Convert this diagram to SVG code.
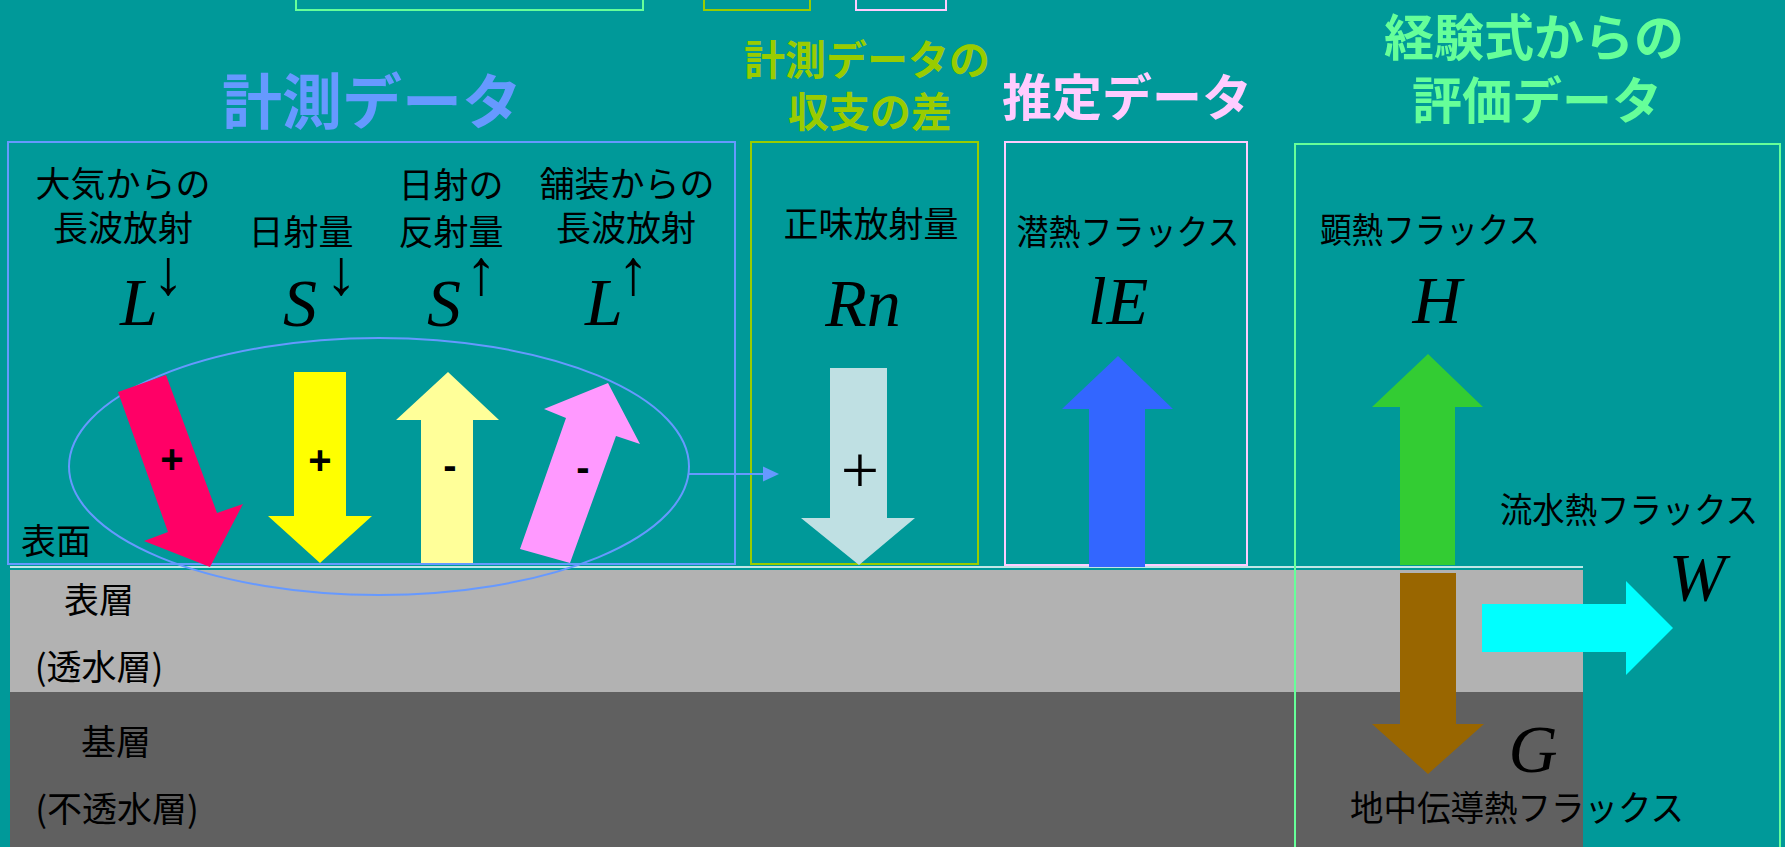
<svg xmlns="http://www.w3.org/2000/svg" width="1785" height="847" viewBox="0 0 1785 847">
<style>
.t{font-family:"Noto Sans CJK JP","Noto Sans",sans-serif;fill:#000;font-size:35px}
.h{font-family:"Noto Sans CJK JP","Noto Sans",sans-serif;font-weight:700}
.m{font-family:"Liberation Serif","DejaVu Serif",serif;font-style:italic;font-size:68px;fill:#000}
.ar{font-family:"Liberation Serif","DejaVu Serif",serif;font-size:64px;fill:#000}
.sg{font-family:"Liberation Sans",Arial,sans-serif;font-weight:700;font-size:40px;fill:#000}
.box{fill:none;stroke-width:2}
</style>
<defs>
<marker id="ah" markerWidth="16" markerHeight="16" refX="0" refY="8" orient="auto" markerUnits="userSpaceOnUse">
<path d="M0,0.5 L16,8 L0,15.5 Z" fill="#6699ff"/>
</marker>
</defs>
<rect width="1785" height="847" fill="#009999"/>
<g id="ground">
<rect x="10" y="570" width="1573" height="122" fill="#b2b2b2"/>
<rect x="10" y="692" width="1573" height="155" fill="#606060"/>
<line x1="10" y1="567" x2="1583" y2="567" stroke="#bfe6e6" stroke-width="2"/>
</g>
<g id="top-boxes">
<rect class="box" x="296" y="-20" width="347" height="30" stroke="#66ff99"/>
<rect class="box" x="704" y="-20" width="106" height="30" stroke="#99cc00"/>
<rect class="box" x="856" y="-20" width="90" height="30" stroke="#ffccff"/>
</g>
<g id="measured">
<rect class="box" x="8" y="142" width="727" height="422" stroke="#6699ff"/>
<text class="h" x="372" y="124" font-size="60" fill="#6699ff" text-anchor="middle">計測データ</text>
</g>
<g id="balance">
<rect class="box" x="751" y="142" width="227" height="422" stroke="#99cc00"/>
<text class="h" x="867" y="75" font-size="41" fill="#99cc00" text-anchor="middle">計測データの</text>
<text class="h" x="870" y="127" font-size="41" fill="#99cc00" text-anchor="middle">収支の差</text>
</g>
<g id="estimated">
<rect class="box" x="1005" y="142" width="242" height="423" stroke="#ffccff"/>
<text class="h" x="1127" y="116" font-size="50" fill="#ffccff" text-anchor="middle">推定データ</text>
</g>
<g id="empirical">
<rect class="box" x="1295" y="144" width="485" height="720" stroke="#66ff99"/>
<text class="h" x="1534" y="56" font-size="50" fill="#66ff99" text-anchor="middle">経験式からの</text>
<text class="h" x="1537" y="119" font-size="50" fill="#66ff99" text-anchor="middle">評価データ</text>
</g>
<g id="connectors">
<ellipse cx="379" cy="466.5" rx="310" ry="128.5" fill="none" stroke="#6699ff" stroke-width="2"/>
<line x1="689" y1="474" x2="763" y2="474" stroke="#6699ff" stroke-width="2" marker-end="url(#ah)"/>
</g>
<g id="L-down">
<polygon points="118,392 166,375 217,513 243,504 210,567 144,541 168,532" fill="#ff0066"/>
<text class="sg" x="172" y="473" text-anchor="middle">+</text>
<text class="t" x="123" y="197" text-anchor="middle">大気からの</text>
<text class="t" x="123" y="241" text-anchor="middle">長波放射</text>
<text class="m" x="139" y="325" text-anchor="middle">L</text>
<text class="ar" x="168" y="294" text-anchor="middle">↓</text>
</g>
<g id="S-down">
<polygon points="294,372 346,372 346,516 372,516 320,563 268,516 294,516" fill="#ffff00"/>
<text class="sg" x="320" y="474" text-anchor="middle">+</text>
<text class="t" x="301" y="245" text-anchor="middle">日射量</text>
<text class="m" x="300" y="326" text-anchor="middle">S</text>
<text class="ar" x="341" y="294" text-anchor="middle">↓</text>
</g>
<g id="S-up">
<polygon points="448,372 499,420 473,420 473,563 421,563 421,420 396,420" fill="#ffff99"/>
<text class="sg" x="450" y="479" text-anchor="middle">-</text>
<text class="t" x="451" y="198" text-anchor="middle">日射の</text>
<text class="t" x="451" y="245" text-anchor="middle">反射量</text>
<text class="m" x="444" y="326" text-anchor="middle">S</text>
<text class="ar" x="481" y="294" text-anchor="middle">↑</text>
</g>
<g id="L-up">
<polygon points="520,549 570,563 616,436 640,444 608,383 544,409 566,418" fill="#ff99ff"/>
<text class="sg" x="583" y="481" text-anchor="middle">-</text>
<text class="t" x="627" y="197" text-anchor="middle">舗装からの</text>
<text class="t" x="626" y="241" text-anchor="middle">長波放射</text>
<text class="m" x="604" y="325" text-anchor="middle">L</text>
<text class="ar" x="633" y="294" text-anchor="middle">↑</text>
</g>
<g id="Rn">
<polygon points="830,368 887,368 887,518 915,518 859,565 801,518 830,518" fill="#bfe0e3"/>
<text x="860" y="493" font-family="Liberation Serif,serif" font-size="68" fill="#000" text-anchor="middle">+</text>
<text class="t" x="871" y="237" text-anchor="middle">正味放射量</text>
<text class="m" x="863" y="326" text-anchor="middle">Rn</text>
</g>
<g id="lE">
<polygon points="1118,356 1173,409 1145,409 1145,567 1089,567 1089,409 1062,409" fill="#3366ff"/>
<text class="t" x="1128" y="245" text-anchor="middle" textLength="223" lengthAdjust="spacingAndGlyphs">潜熱フラックス</text>
<text class="m" x="1118" y="324" text-anchor="middle">lE</text>
</g>
<g id="H">
<polygon points="1428,354 1483,407 1455,407 1455,565 1400,565 1400,407 1372,407" fill="#33cc33"/>
<text class="t" x="1430" y="243" text-anchor="middle" textLength="220" lengthAdjust="spacingAndGlyphs">顕熱フラックス</text>
<text class="m" x="1437" y="323" text-anchor="middle">H</text>
</g>
<g id="G">
<polygon points="1400,573 1456,573 1456,724 1484,724 1428,774 1372,724 1400,724" fill="#996600"/>
<text class="m" x="1533" y="772" text-anchor="middle">G</text>
<text class="t" x="1517" y="821" text-anchor="middle" textLength="334" lengthAdjust="spacingAndGlyphs">地中伝導熱フラックス</text>
</g>
<g id="W">
<polygon points="1482,604 1626,604 1626,581 1673,628 1626,675 1626,652 1482,652" fill="#00ffff"/>
<text class="t" x="1629" y="523" text-anchor="middle" textLength="258" lengthAdjust="spacingAndGlyphs">流水熱フラックス</text>
<text class="m" x="1697" y="600" text-anchor="middle">W</text>
</g>
<g id="layers">
<text class="t" x="56" y="554" text-anchor="middle">表面</text>
<text class="t" x="99" y="613" text-anchor="middle">表層</text>
<text class="t" x="99" y="680" text-anchor="middle">(透水層)</text>
<text class="t" x="116" y="755" text-anchor="middle">基層</text>
<text class="t" x="117" y="822" text-anchor="middle">(不透水層)</text>
</g>
</svg>
